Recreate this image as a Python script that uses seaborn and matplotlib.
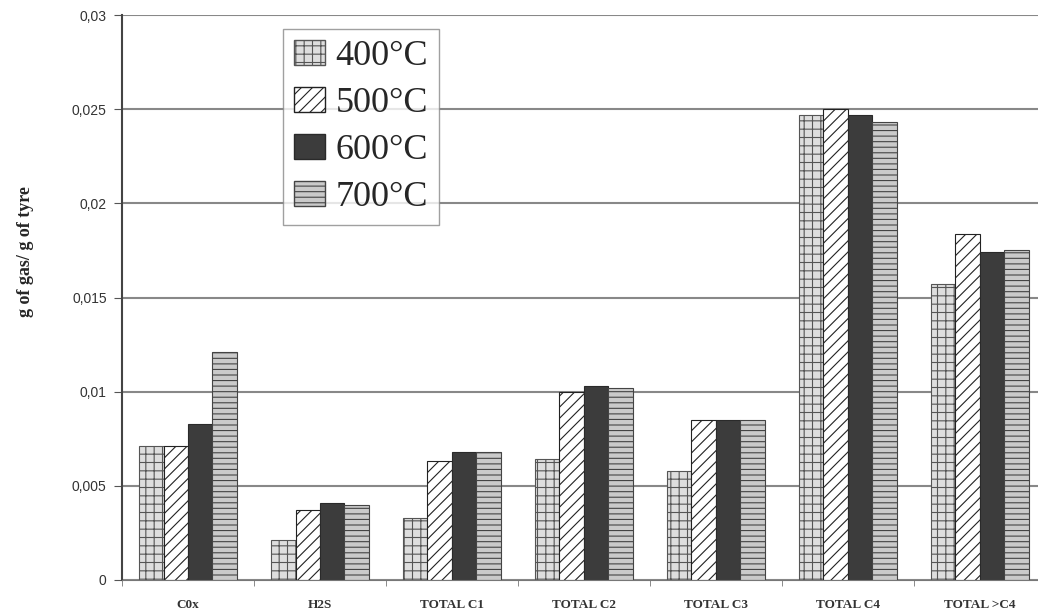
import pandas as pd
import matplotlib
matplotlib.use('Agg')
import matplotlib.pyplot as plt
import seaborn as sns

# Datos
categorias = ['C0x', 'H2S', 'TOTAL C1', 'TOTAL C2', 'TOTAL C3', 'TOTAL C4', 'TOTAL >C4']
temperaturas = ['400°C', '500°C', '600°C', '700°C']
t400 = [0.0071, 0.0021, 0.0033, 0.0064, 0.0058, 0.0247, 0.0157]
t500 = [0.0071, 0.0037, 0.0063, 0.0100, 0.0085, 0.0250, 0.0184]
t600 = [0.0083, 0.0041, 0.0068, 0.0103, 0.0085, 0.0247, 0.0174]
t700 = [0.0121, 0.0040, 0.0068, 0.0102, 0.0085, 0.0243, 0.0175]

filas = []
for temp, valores in zip(temperaturas, [t400, t500, t600, t700]):
    for cat, v in zip(categorias, valores):
        filas.append({'categoria': cat, 'temp': temp, 'valor': v})
df = pd.DataFrame(filas)

sns.set_style('white')
plt.rcParams['font.family'] = ['Liberation Serif', 'DejaVu Serif']
plt.rcParams['hatch.linewidth'] = 0.8

fig = plt.figure(figsize=(10.38, 6.14), dpi=100)
ax = fig.add_axes([0.1175, 0.0554, 0.89, 0.920])

sns.barplot(data=df, x='categoria', y='valor', hue='temp', order=categorias,
            hue_order=temperaturas, width=0.74, gap=0, ax=ax, legend=True)

# Estilos de relleno por temperatura
estilos = [
    {'fc': '#dedede', 'ec': '#555555', 'hatch': '++'},
    {'fc': '#ffffff', 'ec': '#222222', 'hatch': '///'},
    {'fc': '#3c3c3c', 'ec': '#2a2a2a', 'hatch': ''},
    {'fc': '#cacaca', 'ec': '#444444', 'hatch': '---'},
]
for cont, est in zip(ax.containers, estilos):
    for barra in cont:
        barra.set_facecolor(est['fc'])
        barra.set_edgecolor(est['ec'])
        barra.set_hatch(est['hatch'])
        barra.set_linewidth(0.8)

ax.set_ylim(0, 0.03)
ax.set_xlim(-0.5, 6.5)
ax.set_yticks([0, 0.005, 0.01, 0.015, 0.02, 0.025, 0.03])
ax.set_yticklabels(['0', '0,005', '0,01', '0,015', '0,02', '0,025', '0,03'],
                   family='Liberation Sans', fontsize=10, color='#333333')
ax.yaxis.grid(True, color='#888888', linewidth=1.5)
ax.set_axisbelow(True)
ax.tick_params(axis='y', left=True, length=6, color='#555555', pad=5)

ax.set_xticks(range(len(categorias)))
ax.set_xticklabels(categorias, fontsize=9.5, fontweight='bold', color='#333333')
ax.tick_params(axis='x', bottom=False, pad=10)
ax.set_xticks([i + 0.5 for i in range(-1, 7)], minor=True)
ax.tick_params(axis='x', which='minor', bottom=True, length=4, color='#777777')

for lado in ['top', 'right']:
    ax.spines[lado].set_visible(False)
ax.spines['left'].set_color('#444444')
ax.spines['left'].set_linewidth(1.5)
ax.spines['bottom'].set_color('#777777')

ax.set_xlabel('')
ax.set_ylabel('g of gas/ g of tyre', fontsize=13, fontweight='bold')
ax.yaxis.set_label_coords(-88 / 924, 1 - (252 - 15) / 565)

handles, labels = ax.get_legend_handles_labels()
for h, est in zip(handles, estilos):
    h.set_facecolor(est['fc'])
    h.set_edgecolor(est['ec'])
    h.set_hatch(est['hatch'])
ax.legend(handles, labels, loc='upper left', bbox_to_anchor=(283 / 1038, 1 - 29 / 614),
          bbox_transform=fig.transFigure, fontsize=26, frameon=True, fancybox=False,
          edgecolor='#888888', handlelength=0.85, handleheight=0.7, handletextpad=0.3,
          labelspacing=0.38, borderpad=0.3, borderaxespad=0)

plt.savefig('out.png', dpi=100)
